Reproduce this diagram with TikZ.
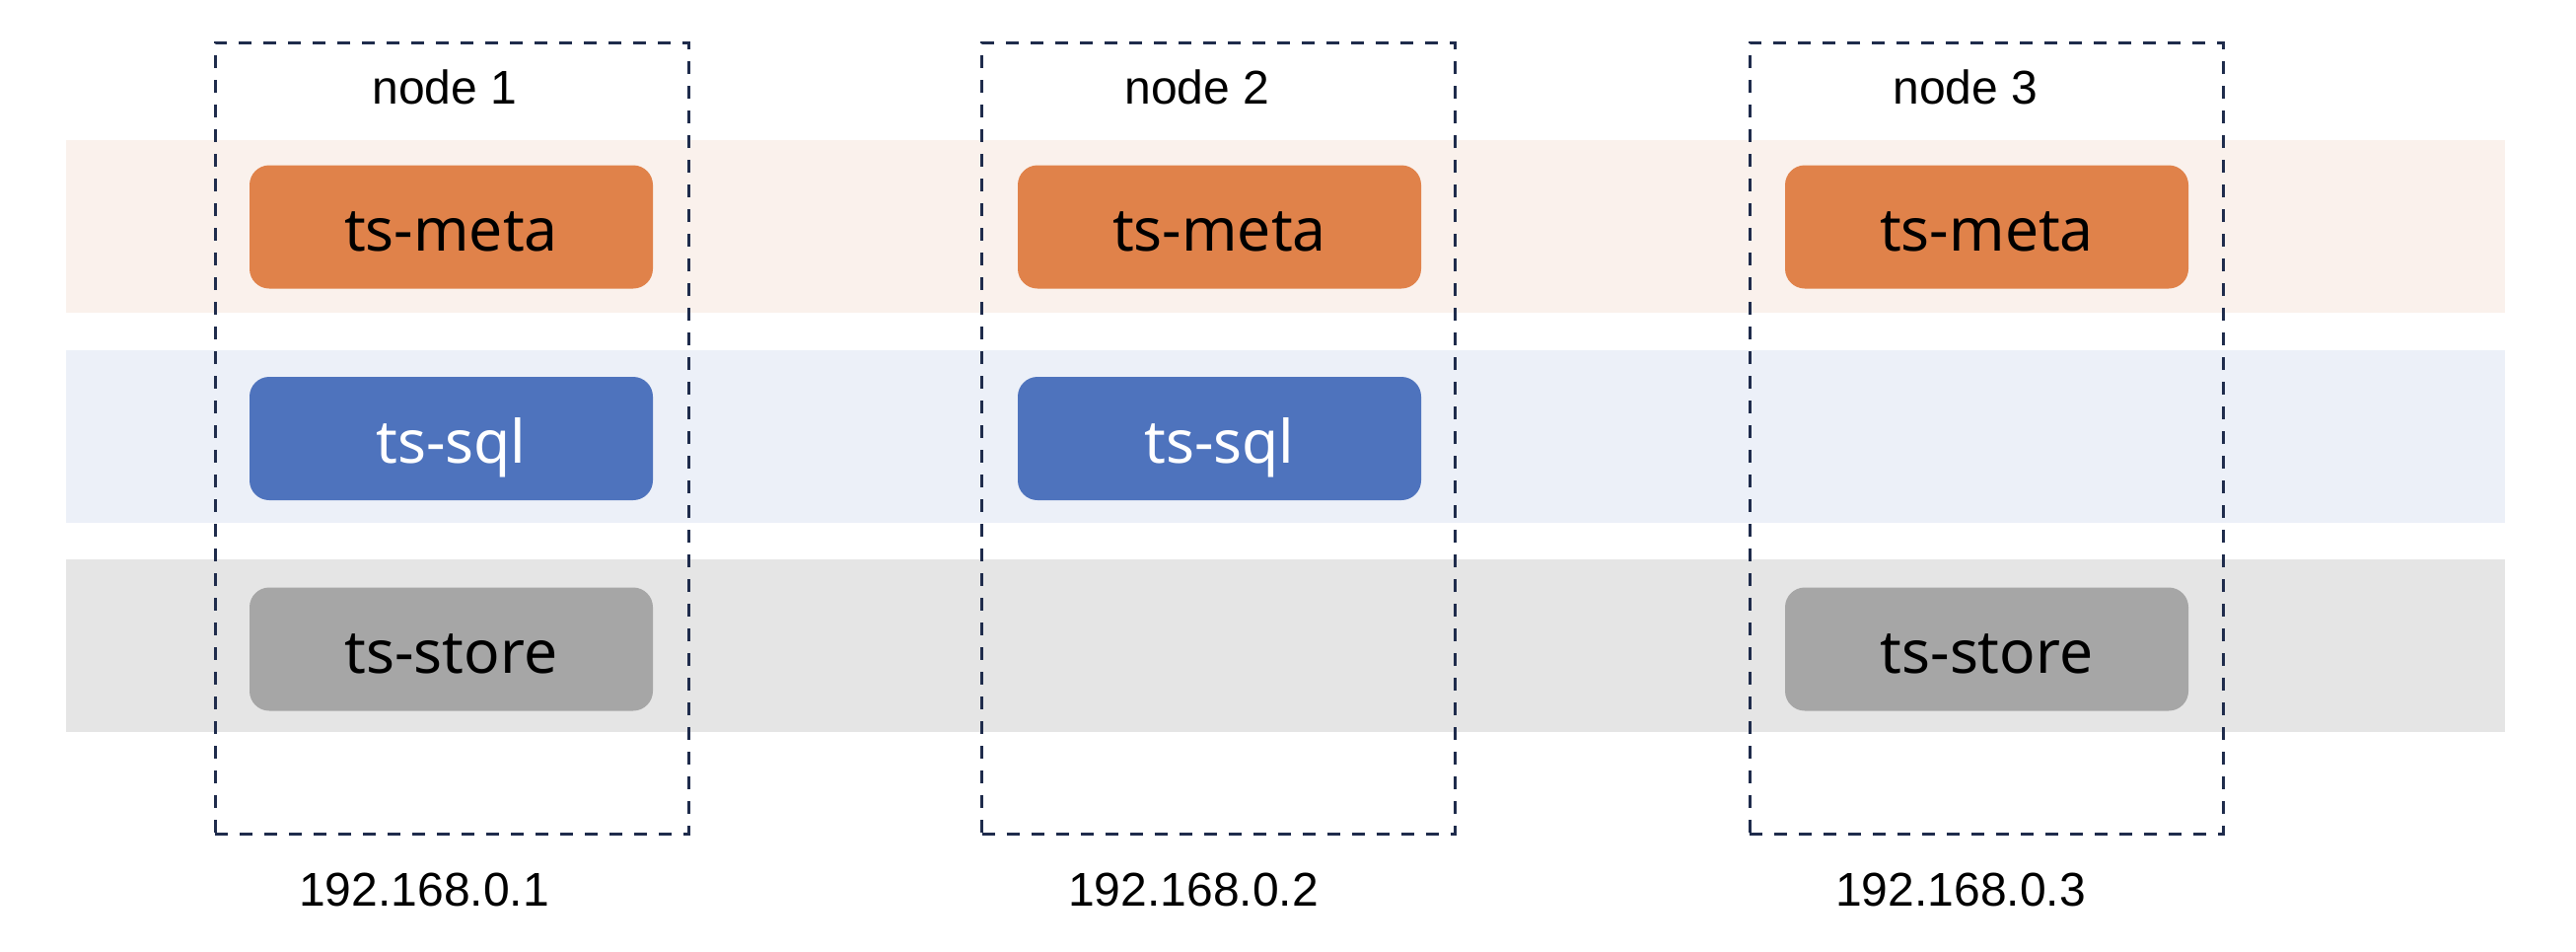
\documentclass[tikz,border=0pt]{standalone}
\usepackage{fontspec}
\setmainfont{Liberation Sans}
\newfontfamily\boxfont{Noto Sans}
\definecolor{metafill}{HTML}{E0824A}
\definecolor{metaband}{HTML}{FAF1EC}
\definecolor{sqlfill}{HTML}{4E73BD}
\definecolor{sqlband}{HTML}{ECF0F8}
\definecolor{storefill}{HTML}{A6A6A6}
\definecolor{storeband}{HTML}{E5E5E5}
\definecolor{dashcol}{HTML}{1F2C4C}
\begin{document}
\begin{tikzpicture}[x=1pt,y=-1pt,
  band/.style={inner sep=0pt, minimum width=2473pt, minimum height=175pt, anchor=north west},
  hostbox/.style={draw=dashcol, line width=3pt, dash pattern=on 13pt off 12pt, minimum width=480pt, minimum height=802pt, inner sep=0pt},
  svc/.style={rounded corners=20pt, minimum width=409pt, minimum height=125pt, inner sep=0pt,
    text height=49pt, text depth=0pt, font=\boxfont\fontsize{60.5}{70}\selectfont},
  meta/.style={svc, fill=metafill, text=black},
  sql/.style={svc, fill=sqlfill, text=white},
  store/.style={svc, fill=storefill, text=black},
  lbl/.style={anchor=base, inner sep=0pt, font=\fontsize{48}{56}\selectfont}
]
\useasboundingbox (0,0) rectangle (2612,964);
% bands
\node[band, fill=metaband] (bandmeta) at (67,142) {};
\node[band, fill=sqlband] (bandsql) at (67,355) {};
\node[band, fill=storeband] (bandstore) at (67,567) {};
% host boxes
\node[hostbox] (host1) at (458,444) {};
\node[hostbox] (host2) at (1235.5,444) {};
\node[hostbox] (host3) at (2014,444) {};
% services
\node[meta] (meta1) at (457.5,230) {ts-meta};
\node[sql] (sql1) at (457.5,444.5) {ts-sql};
\node[store] (store1) at (457.5,658) {ts-store};
\node[meta] (meta2) at (1236.5,230) {ts-meta};
\node[sql] (sql2) at (1236.5,444.5) {ts-sql};
\node[meta] (meta3) at (2014.5,230) {ts-meta};
\node[store] (store3) at (2014.5,658) {ts-store};
% labels
\node[lbl] (name1) at (451,105) {node 1};
\node[lbl] (name2) at (1214,105) {node 2};
\node[lbl] (name3) at (1993,105) {node 3};
\node[lbl] (ip1) at (430,918) {192.168.0.1};
\node[lbl] (ip2) at (1210,918) {192.168.0.2};
\node[lbl] (ip3) at (1988,918) {192.168.0.3};
\end{tikzpicture}
\end{document}
